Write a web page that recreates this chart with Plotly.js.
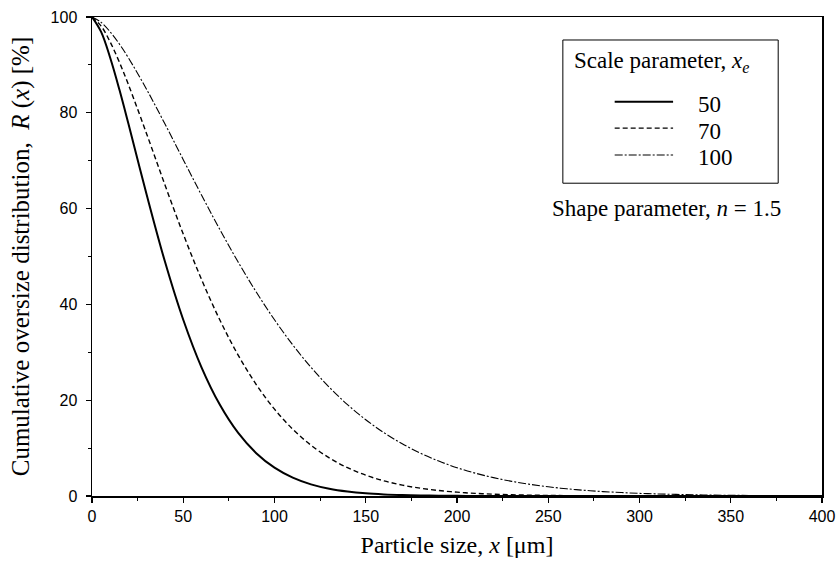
<!DOCTYPE html>
<html>
<head>
<meta charset="utf-8">
<script src="https://cdn.plot.ly/plotly-3.0.1.min.js"></script>
<style>html,body{margin:0;padding:0;background:#fff;}#chart{width:837px;height:565px;}</style>
</head>
<body>
<div id="chart"></div>
<script>
// Particle size x [µm]
const particleSize = [0,5,10,15,20,30,40,50,60,70,80,90,100,110,120,130,140,150,160,170,180,190,200,210,220,230,240,250,260,270,280,290,300,310,320,330,340,350,360,370,380,390,400];
// Cumulative oversize R(x) [%], scale parameter xe = 50
const r50 = [100,96.89,91.44,84.85,77.65,62.83,48.89,36.79,26.86,19.08,13.21,8.94,5.91,3.83,2.43,1.51,0.92,0.55,0.33,0.19,0.11,0.06,0.03,0.02,0.01,0,0,0,0,0,0,0,0,0,0,0,0,0,0,0,0,0,0];
// xe = 70
const r70 = [100,98.11,94.74,90.56,85.84,75.54,64.92,54.68,45.22,36.79,29.47,23.27,18.13,13.95,10.60,7.96,5.91,4.34,3.16,2.27,1.62,1.14,0.80,0.55,0.38,0.26,0.18,0.12,0.08,0.05,0.03,0.02,0.01,0,0,0,0,0,0,0,0,0,0];
// xe = 100
const r100 = [100,98.89,96.89,94.36,91.44,84.85,77.65,70.22,62.83,55.67,48.89,42.58,36.79,31.55,26.86,22.71,19.08,15.93,13.21,10.90,8.94,7.29,5.91,4.77,3.83,3.06,2.43,1.92,1.51,1.18,0.92,0.72,0.55,0.43,0.33,0.25,0.19,0.14,0.11,0.08,0.06,0.05,0.03];
const seriesNames = ['50','70','100'];
const xTicks = [0,50,100,150,200,250,300,350,400];
const yTicks = [0,20,40,60,80,100];

const serif = 'Liberation Serif, Times New Roman, serif';
const sans = 'Liberation Sans, Arial, sans-serif';

const lineStyles = [
  {color: '#000', width: 2, dash: 'solid'},
  {color: '#000', width: 1.4, dash: '5px,3px'},
  {color: '#000', width: 1.1, dash: '8px,2px,2px,2px'}
];
const seriesY = [r50, r70, r100];

const traces = seriesY.map((ys, i) => ({
  x: particleSize, y: ys, name: seriesNames[i], mode: 'lines',
  line: Object.assign({shape: 'spline'}, lineStyles[i])
}));

const axisCommon = {
  showgrid: false, zeroline: false, showline: true, linecolor: '#000', linewidth: 1.5,
  mirror: true, ticks: 'outside', ticklen: 5, tickwidth: 1.2, tickcolor: '#000',
  tickfont: {family: sans, size: 16, color: '#000'},
  minor: {ticks: 'outside', ticklen: 3, tickwidth: 1, tickcolor: '#000', showgrid: false}
};

// manual legend (paper coordinates)
const legendRows = [0.823, 0.768, 0.712];
const shapes = [{
  type: 'rect', xref: 'paper', yref: 'paper', x0: 0.645, x1: 0.940, y0: 0.653, y1: 0.952,
  line: {color: '#000', width: 1}, fillcolor: '#fff', layer: 'above'
}];
const annotations = [{
  xref: 'paper', yref: 'paper', x: 0.657, y: 0.906, xanchor: 'left', yanchor: 'middle',
  text: 'Scale parameter, <i>x</i><sub><i>e</i></sub>', showarrow: false,
  font: {family: serif, size: 23, color: '#000'}
}];
seriesNames.forEach((nm, i) => {
  shapes.push({
    type: 'line', xref: 'paper', yref: 'paper', x0: 0.716, x1: 0.796,
    y0: legendRows[i], y1: legendRows[i], line: lineStyles[i], layer: 'above'
  });
  annotations.push({
    xref: 'paper', yref: 'paper', x: 0.827, y: legendRows[i] - 0.006, xanchor: 'left', yanchor: 'middle',
    text: nm, showarrow: false, font: {family: serif, size: 23, color: '#000'}
  });
});
annotations.push({
  xref: 'paper', yref: 'paper', x: 0.9465, y: 0.601, xanchor: 'right', yanchor: 'middle',
  text: 'Shape parameter, <i>n</i> = 1.5', showarrow: false,
  font: {family: serif, size: 23, color: '#000'}
});

const layout = {
  width: 837, height: 565,
  margin: {l: 92, r: 15, t: 17, b: 69},
  paper_bgcolor: '#fff', plot_bgcolor: '#fff',
  showlegend: false,
  xaxis: Object.assign({}, axisCommon, {
    range: [0, 400], tickvals: xTicks, ticktext: xTicks.map(String),
    minor: Object.assign({}, axisCommon.minor, {dtick: 25}),
    title: {text: 'Particle size, <i>x</i> [μm]', font: {family: serif, size: 24, color: '#000'}, standoff: 12}
  }),
  yaxis: Object.assign({}, axisCommon, {
    range: [0, 100], tickvals: yTicks, ticktext: yTicks.map(String),
    ticklabelstandoff: 5,
    minor: Object.assign({}, axisCommon.minor, {dtick: 10}),
    title: {text: 'Cumulative oversize distribution,  <i>R</i> (<i>x</i>) [%]', font: {family: serif, size: 25, color: '#000'}, standoff: 14}
  }),
  shapes: shapes,
  annotations: annotations
};

Plotly.newPlot('chart', traces, layout, {displayModeBar: false, staticPlot: true});
</script>
</body>
</html>
